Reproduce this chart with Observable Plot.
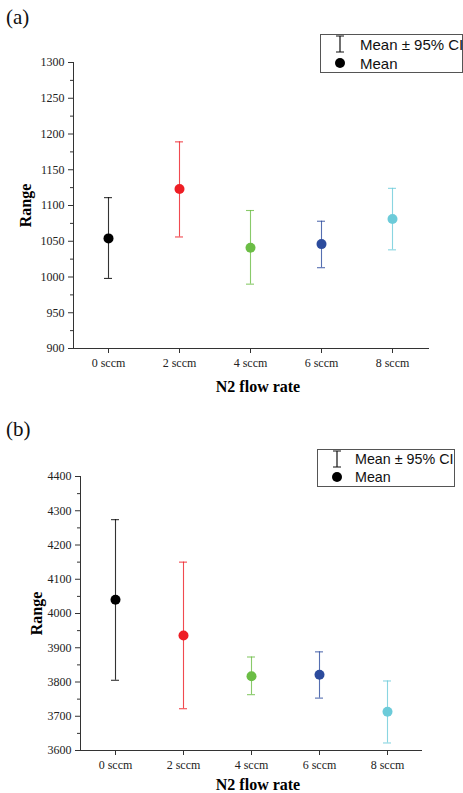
<!DOCTYPE html>
<html>
<head>
<meta charset="utf-8">
<script src="https://cdn.jsdelivr.net/npm/d3@7"></script>
<script src="https://cdn.jsdelivr.net/npm/@observablehq/plot@0.6"></script>
<style>
  html, body { margin: 0; padding: 0; background: #fff; }
  #wrap { position: relative; width: 463px; height: 793px; overflow: hidden; background: #fff; }
  #wrap svg.plot { position: absolute; left: 0; }
  .panel { position: absolute; font-family: "Liberation Serif", serif; font-size: 21px; line-height: 21px; color: #111; }
  .legend { position: absolute; border: 1px solid #555; background: #fff; box-sizing: border-box;
            font-family: "Liberation Sans", Arial, sans-serif; color: #111; }
  .legend svg { position: absolute; }
  .legend span { position: absolute; white-space: nowrap; }
</style>
</head>
<body>
<div id="wrap"></div>
<script>
// ---- data ----
const categories = ["0 sccm", "2 sccm", "4 sccm", "6 sccm", "8 sccm"];
const colors = ["#000000", "#ee1d24", "#6bbd45", "#2c4b9d", "#6ccbd9"];

const meanA = [1054, 1123, 1041, 1046, 1081];
const lowA  = [998, 1056, 990, 1013, 1038];
const highA = [1111, 1189, 1093, 1078, 1124];

const meanB = [4040, 3936, 3817, 3821, 3713];
const lowB  = [3805, 3722, 3763, 3753, 3622];
const highB = [4274, 4150, 3873, 3888, 3803];

const ticksA = [900, 950, 1000, 1050, 1100, 1150, 1200, 1250, 1300];
const minorA = [925, 975, 1025, 1075, 1125, 1175, 1225, 1275];
const ticksB = [3600, 3700, 3800, 3900, 4000, 4100, 4200, 4300, 4400];
const minorB = [3650, 3750, 3850, 3950, 4050, 4150, 4250, 4350];

const xLabel = "N2 flow rate";
const yLabel = "Range";
const legendLabels = ["Mean \u00b1 95% CI", "Mean"];

function rows(mean, low, high) {
  return categories.map((c, i) => ({cat: c, mean: mean[i], low: low[i], high: high[i]}));
}

function panel({data, domain, ticks, minor, height, mt, mb, ml, mr, ylabDx, xlabDy}) {
  return Plot.plot({
    width: 463,
    height,
    marginTop: mt, marginBottom: mb, marginLeft: ml, marginRight: mr,
    style: {fontFamily: "'Liberation Serif', serif", fontSize: "12px", color: "#222", background: "transparent"},
    x: {type: "band", domain: categories, paddingInner: 0.887, paddingOuter: 0.4435, axis: null},
    y: {domain, axis: null},
    color: {domain: categories, range: colors},
    marks: [
      Plot.frame({anchor: "left", stroke: "#333"}),
      Plot.frame({anchor: "bottom", stroke: "#333"}),
      Plot.axisY({ticks, tickSize: 5, tickPadding: 4, tickFormat: d3.format("d"), label: null, stroke: "#333", fill: "#222", fontSize: 12}),
      Plot.axisY({ticks: minor, tickSize: 3, tickFormat: () => "", label: null, stroke: "#333"}),
      Plot.axisX({tickSize: 5, tickPadding: 5, label: null, stroke: "#333", fill: "#222", fontSize: 12}),
      Plot.ruleX(data, {x: "cat", y1: "low", y2: "high", stroke: "cat", strokeWidth: 1.1, strokeOpacity: 0.8}),
      Plot.tickY(data, {x: "cat", y: "high", stroke: "cat", strokeWidth: 1.1, strokeOpacity: 0.8}),
      Plot.tickY(data, {x: "cat", y: "low", stroke: "cat", strokeWidth: 1.1, strokeOpacity: 0.8}),
      Plot.dot(data, {x: "cat", y: "mean", fill: "cat", r: 5}),
      Plot.text([yLabel], {frameAnchor: "left", textAnchor: "middle", lineAnchor: "middle", dx: ylabDx, rotate: -90, fontWeight: "bold", fontSize: 16, fill: "#000"}),
      Plot.text([xLabel], {frameAnchor: "bottom", textAnchor: "middle", lineAnchor: "middle", dx: 7, dy: xlabDy, fontWeight: "bold", fontSize: 16, fill: "#000"})
    ]
  });
}

const wrap = document.getElementById("wrap");

const a = panel({data: rows(meanA, lowA, highA), domain: [900, 1300], ticks: ticksA, minor: minorA,
  height: 395, mt: 62, mb: 47, ml: 73, mr: 35, ylabDx: -48, xlabDy: 38});
a.classList.add("plot");
a.style.top = "0px";
wrap.appendChild(a);

const b = panel({data: rows(meanB, lowB, highB), domain: [3600, 4400], ticks: ticksB, minor: minorB,
  height: 398, mt: 81, mb: 43, ml: 80, mr: 42, ylabDx: -44, xlabDy: 34});
b.classList.add("plot");
b.style.top = "395px";
wrap.appendChild(b);

function addPanelLabel(txt, left, top) {
  const d = document.createElement("div");
  d.className = "panel";
  d.textContent = txt;
  d.style.left = left + "px";
  d.style.top = top + "px";
  wrap.appendChild(d);
}
addPanelLabel("(a)", 6, 7);
addPanelLabel("(b)", 6, 419);

function addLegend(left, top, w, h, fs, symX, textX, row1, row2) {
  const L = document.createElement("div");
  L.className = "legend";
  Object.assign(L.style, {left: left + "px", top: top + "px", width: w + "px", height: h + "px", fontSize: fs + "px"});
  const ns = "http://www.w3.org/2000/svg";
  const s = document.createElementNS(ns, "svg");
  s.setAttribute("width", 20); s.setAttribute("height", h);
  s.style.left = (symX - 10) + "px"; s.style.top = "-1px";
  const p = document.createElementNS(ns, "path");
  p.setAttribute("d", `M6,${row1 - 8}H14M10,${row1 - 8}V${row1 + 8}M6,${row1 + 8}H14`);
  p.setAttribute("stroke", "#111"); p.setAttribute("stroke-width", "1.2"); p.setAttribute("fill", "none");
  s.appendChild(p);
  const c = document.createElementNS(ns, "circle");
  c.setAttribute("cx", 10); c.setAttribute("cy", row2); c.setAttribute("r", 5); c.setAttribute("fill", "#000");
  s.appendChild(c);
  L.appendChild(s);
  [legendLabels[0], legendLabels[1]].forEach((t, i) => {
    const sp = document.createElement("span");
    sp.textContent = t;
    sp.style.left = textX + "px";
    sp.style.top = ((i === 0 ? row1 : row2) - fs * 0.6) + "px";
    sp.style.lineHeight = (fs * 1.15) + "px";
    L.appendChild(sp);
  });
  wrap.appendChild(L);
}
addLegend(320, 34, 143, 39, 15, 19, 39, 10, 29);
addLegend(317, 449, 138, 38, 14.3, 19, 37, 10, 28);
</script>
</body>
</html>
